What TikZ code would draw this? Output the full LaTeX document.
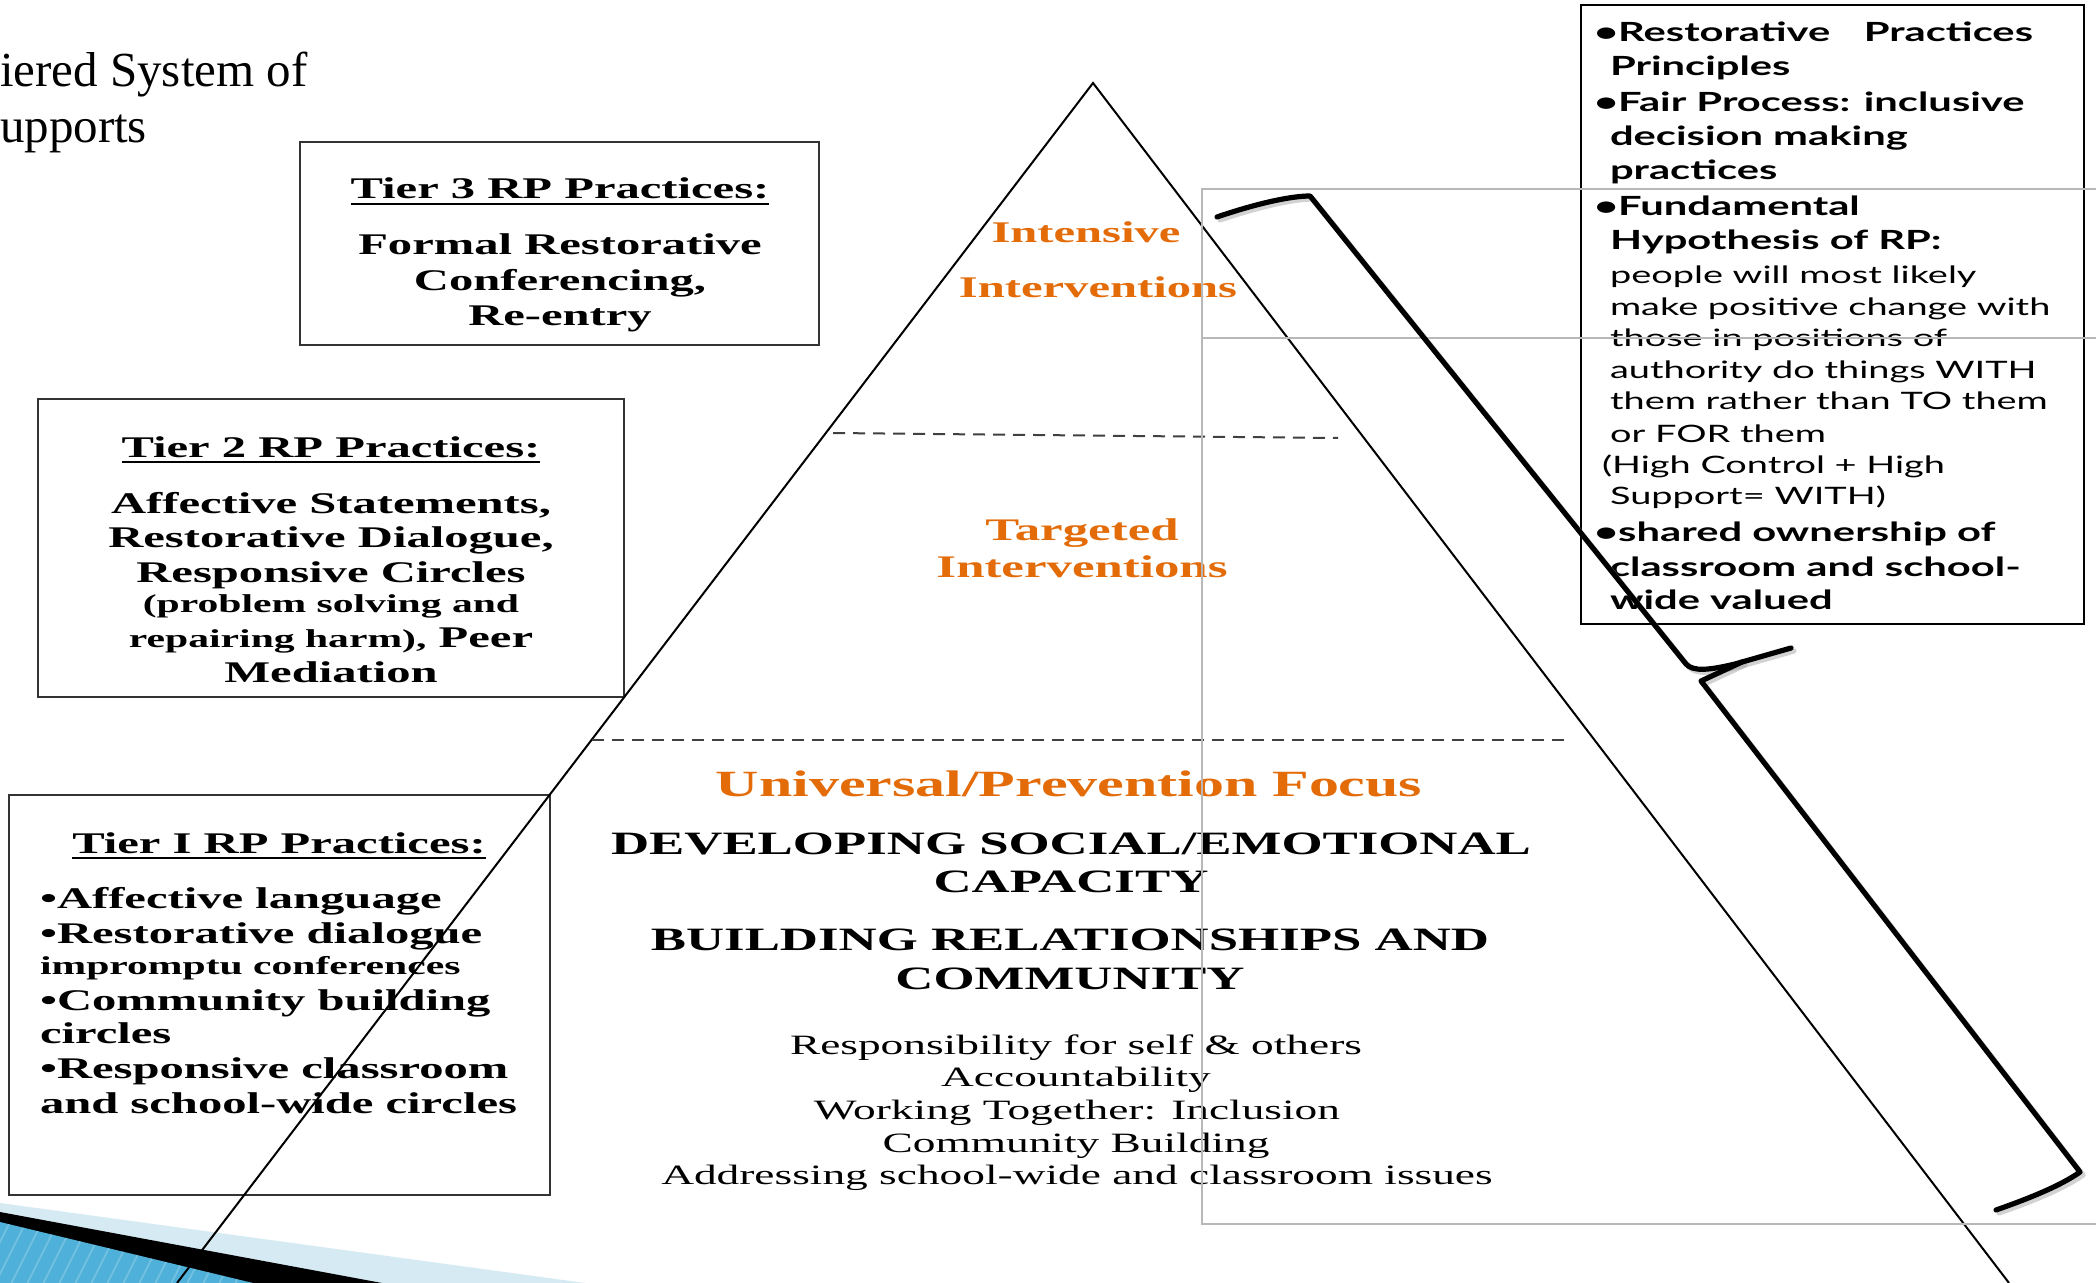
\documentclass[tikz,border=0pt]{standalone}
\usepackage{fontspec}
\setmainfont{Liberation Serif}
\newfontfamily\serS[FakeStretch=1.62]{Liberation Serif}
\newfontfamily\gill[FakeStretch=1.58]{Lato}
\definecolor{orng}{HTML}{E36C09}
\definecolor{ltblue}{HTML}{D6EAF3}
\definecolor{hblue}{HTML}{4FB0D9}
\begin{document}
\begin{tikzpicture}[x=0.5pt,y=-0.5pt,
  tx/.style={inner sep=0pt, outer sep=0pt, anchor=base},
  txl/.style={inner sep=0pt, outer sep=0pt, anchor=base west},
  tbig/.style={font=\serS\bfseries\fontsize{15}{18}\selectfont},
  tsmall/.style={font=\serS\bfseries\fontsize{12.85}{15}\selectfont},
  ora/.style={text=orng, font=\serS\bfseries\fontsize{15}{18}\selectfont},
  orab/.style={text=orng, font=\serS\bfseries\fontsize{18.5}{22}\selectfont},
  capsf/.style={font=\serS\bfseries\fontsize{16.3}{19}\selectfont},
  regf/.style={font=\serS\fontsize{14}{17}\selectfont},
  gb/.style={font=\gill\bfseries\fontsize{13.2}{15}\selectfont},
  gr/.style={font=\gill\fontsize{12}{14}\selectfont},
  tbox/.style={draw=black!80, line width=1.3pt},
  tri/.style={line width=1pt, black},
  dsh/.style={line width=1pt, black!75, dash pattern=on 6pt off 4pt},
  gry/.style={draw=black!28, line width=0.7pt},
  brk/.style={line width=2.6pt, line join=round, line cap=round},
  uline/.style={line width=1.1pt}
]
\useasboundingbox (0,0) rectangle (2096,1283);
\fill[white] (0,0) rectangle (2096,1283);

% corner decoration
\fill[ltblue] (0,1203) -- (585,1283) -- (0,1283) -- cycle;
\fill[black] (0,1212) -- (382,1283) -- (0,1283) -- cycle;
\fill[hblue] (0,1222) -- (253,1283) -- (0,1283) -- cycle;
\begin{scope}
\clip (0,1222) -- (253,1283) -- (0,1283) -- cycle;
\foreach \i in {-120,-104,...,300} \draw[white, opacity=0.22, line width=0.8pt] (\i,1290) -- (\i+45,1200);
\end{scope}

% title
\node[txl, font=\fontsize{24.5}{29}\selectfont] (ttl1) at (0,87) {iered System of};
\node[txl, font=\fontsize{24.5}{29}\selectfont] (ttl2) at (0,143) {upports};

% tier boxes
\draw[tbox] (300,142) rectangle (819,345);
\draw[tbox] (38,399) rectangle (624,697);
\draw[tbox] (9,795) rectangle (550,1195);

% tier 3
\node[tx, tbig] (t3t) at (560,199) {Tier 3 RP Practices:};
\draw[uline] ([yshift=-2.6pt]t3t.base west) -- ([yshift=-2.6pt]t3t.base east);
\node[tx, tbig] (t3a) at (560,255) {Formal Restorative};
\node[tx, tbig] (t3b) at (560,290.5) {Conferencing,};
\node[tx, tbig] (t3c) at (560,326) {Re-entry};

% tier 2
\node[tx, tbig] (t2t) at (331,457) {Tier 2 RP Practices:};
\draw[uline] ([yshift=-2.6pt]t2t.base west) -- ([yshift=-2.6pt]t2t.base east);
\node[tx, tbig] (t2a) at (331,513) {Affective Statements,};
\node[tx, tbig] (t2b) at (331,547) {Restorative Dialogue,};
\node[tx, tbig] (t2c) at (331,582) {Responsive Circles};
\node[tx, tsmall] (t2d) at (331,612) {(problem solving and};
\node[tx, tbig] (t2e) at (331,647) {{\fontsize{12.85}{15}\selectfont repairing harm),} Peer};
\node[tx, tbig] (t2f) at (331,682) {Mediation};

% tier 1
\node[tx, tbig] (t1t) at (279,853) {Tier I RP Practices:};
\draw[uline] ([yshift=-2.6pt]t1t.base west) -- ([yshift=-2.6pt]t1t.base east);
\node[txl, tbig] (t1a) at (40,908) {•Affective language};
\node[txl, tbig] (t1b) at (40,943) {•Restorative dialogue};
\node[txl, tsmall] (t1c) at (40,974) {impromptu conferences};
\node[txl, tbig] (t1d) at (40,1010) {•Community building};
\node[txl, tbig] (t1e) at (40,1043) {circles};
\node[txl, tbig] (t1f) at (40,1078) {•Responsive classroom};
\node[txl, tbig] (t1g) at (40,1113) {and school-wide circles};

% pyramid texts
\node[tx, ora] (int1) at (1086,243) {Intensive};
\node[tx, ora] (int2) at (1098,298) {Interventions};
\node[tx, ora, font=\serS\bfseries\fontsize{15.7}{18}\selectfont] (tar1) at (1082,540) {Targeted};
\node[tx, ora, font=\serS\bfseries\fontsize{15.7}{18}\selectfont] (tar2) at (1082,577) {Interventions};
\node[tx, orab] (uni) at (1069,796) {Universal/Prevention Focus};
\node[tx, capsf] (dev1) at (1071,854) {DEVELOPING SOCIAL/EMOTIONAL};
\node[tx, capsf] (dev2) at (1071,892) {CAPACITY};
\node[tx, capsf] (bld1) at (1070,950) {BUILDING RELATIONSHIPS AND};
\node[tx, capsf] (bld2) at (1070,989) {COMMUNITY};
\node[tx, regf] (l1) at (1076,1054) {Responsibility for self \& others};
\node[tx, regf] (l2) at (1076,1086) {Accountability};
\node[tx, regf] (l3) at (1077,1119) {Working Together: Inclusion};
\node[tx, regf] (l4) at (1076,1152) {Community Building};
\node[tx, regf] (l5) at (1077,1184) {Addressing school-wide and classroom issues};

% pyramid
\coordinate (apex) at (1093,83);
\coordinate (bl) at (177,1283);
\coordinate (br) at (2009,1283);
\draw[tri] (bl) -- (apex) -- (br);
\coordinate (d1a) at (833,433);
\coordinate (d1b) at (1338,438);
\coordinate (d2a) at (592,740);
\coordinate (d2b) at (1568,740);
\draw[dsh] (d1a) -- (d1b);
\draw[dsh] (d2a) -- (d2b);

% right box
\draw[line width=1.3pt, black] (1581,5) rectangle (2084,624);
\node[txl, gb] (r1) at (1594,42) {•Restorative};
\node[tx, gb, anchor=base east] (r1b) at (2033,42) {Practices};
\node[txl, gb] (r2) at (1610,76) {Principles};
\node[txl, gb] (r3) at (1594,112) {•Fair Process: inclusive};
\node[txl, gb] (r4) at (1610,146) {decision making};
\node[txl, gb] (r5) at (1610,180) {practices};
\node[txl, gb] (r6) at (1594,216) {•Fundamental};
\node[txl, gb] (r7) at (1610,250) {Hypothesis of RP:};
\node[txl, gr] (r8) at (1610,284) {people will most likely};
\node[txl, gr] (r9) at (1610,315) {make positive change with};
\node[txl, gr] (r10) at (1610,347) {those in positions of};
\node[txl, gr] (r11) at (1610,379) {authority do things WITH};
\node[txl, gr] (r12) at (1610,409) {them rather than TO them};
\node[txl, gr] (r13) at (1610,442) {or FOR them};
\node[txl, gr] (r14) at (1602,473) {(High Control + High};
\node[txl, gr] (r15) at (1610,504) {Support= WITH)};
\node[txl, gb] (r16) at (1594,541) {•shared ownership of};
\node[txl, gb] (r17) at (1610,576) {classroom and school-};
\node[txl, gb] (r18) at (1610,609) {wide valued};

% gray frame lines
\draw[gry] (2110,189) -- (1202,189) -- (1202,1224) -- (2110,1224);
\draw[gry] (1202,338) -- (2110,338);

% bracket
\begin{scope}[shift={(3,3)}]
\draw[brk, black!35, opacity=0.5] (1217,217) .. controls (1255,204) and (1290,196) .. (1310,196) -- (1686,664) .. controls (1693,672) and (1710,670) .. (1735,664) -- (1791,648);
\draw[brk, black!35, opacity=0.5] (1742,662) -- (1701,681) -- (2080,1172) .. controls (2060,1186) and (2030,1198) .. (1996,1210);
\end{scope}
\draw[brk] (1217,217) .. controls (1255,204) and (1290,196) .. (1310,196) -- (1686,664) .. controls (1693,672) and (1710,670) .. (1735,664) -- (1791,648);
\draw[brk] (1742,662) -- (1701,681) -- (2080,1172) .. controls (2060,1186) and (2030,1198) .. (1996,1210);
\end{tikzpicture}
\end{document}
